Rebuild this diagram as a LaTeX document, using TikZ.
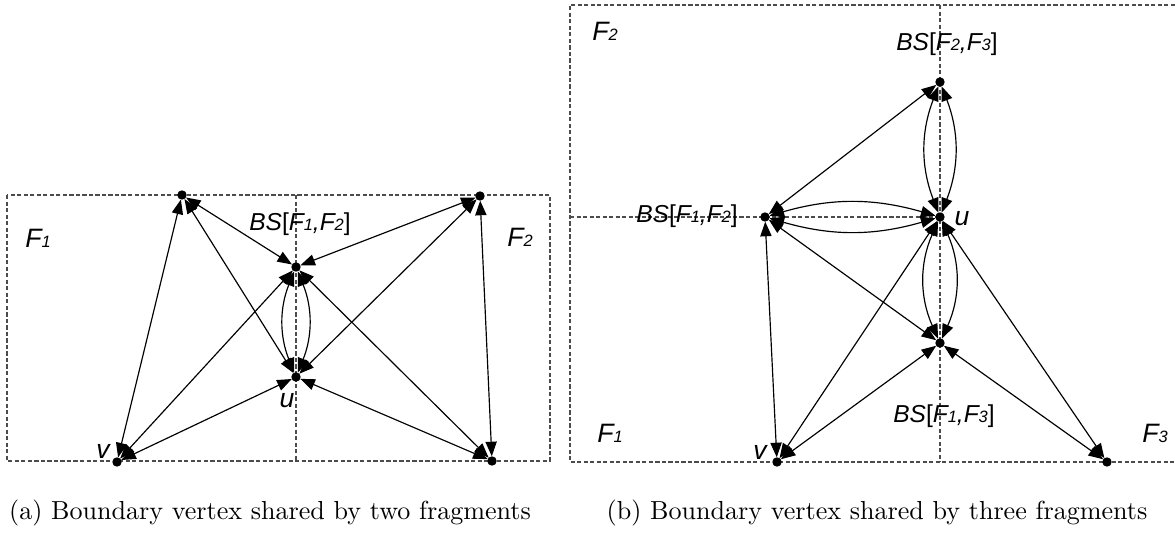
\documentclass[tikz,border=0pt]{standalone}
\usepackage{fontspec}
\newfontfamily\labfont{Liberation Sans}
\usetikzlibrary{arrows.meta}
\newcommand{\subnum}[1]{{\fontsize{6.3}{7}\selectfont #1}}
\newcommand{\bslabel}[2]{BS{\upshape[}F\subnum{#1},F\subnum{#2}{\upshape]}}
\begin{document}
\begin{tikzpicture}[x=0.3835pt,y=-0.3835pt,
  dot/.style={circle,fill=black,inner sep=0pt,minimum size=3.6pt,outer sep=0pt},
  edge/.style={line width=0.45pt,{Triangle[length=5.6pt,width=4.3pt]}-{Triangle[length=5.6pt,width=4.3pt]}},
  bound/.style={line width=0.4pt,black!70,dash pattern=on 1.6pt off 0.9pt},
  lbl/.style={font={\labfont\itshape\fontsize{10.2}{12}\selectfont},inner sep=0pt},
  bslbl/.style={font={\labfont\itshape\fontsize{9.4}{11}\selectfont},inner sep=0pt},
  captext/.style={font={\fontsize{10}{12}\selectfont},inner sep=0pt}]
\useasboundingbox (0,0) rectangle (1175,538);

% ---------- panel (a) ----------
\draw[bound] (7,195) rectangle (550,461);
\coordinate (at) at (296,195);
\coordinate (ab) at (296,461);
\draw[bound] (at) -- (ab);

\node[dot] (A) at (182,195) {};
\node[dot] (B) at (480,196) {};
\node[dot] (S) at (296,267) {};
\node[dot] (U) at (296,377) {};
\node[dot] (V) at (117,462) {};
\node[dot] (D) at (492,461) {};

\draw[edge] (V) -- (A);
\draw[edge] (A) -- (S);
\draw[edge] (A) -- (U);
\draw[edge] (V) -- (S);
\draw[edge] (V) -- (U);
\draw[edge] (B) -- (S);
\draw[edge] (B) -- (U);
\draw[edge] (B) -- (D);
\draw[edge] (D) -- (S);
\draw[edge] (D) -- (U);
\draw[edge] (S) to[bend right=22] (U);
\draw[edge] (S) to[bend left=22] (U);

\node[lbl] (laF1) at (38,238) {F\subnum{1}};
\node[lbl] (laF2) at (520,237) {F\subnum{2}};
\node[bslbl] (laBS) at (300,224) {\bslabel{1}{2}};
\node[lbl] (lau) at (287,401) {u};
\node[lbl] (lav) at (103,451) {v};

% ---------- panel (b) ----------
\coordinate (bl) at (570,5);
\coordinate (br) at (1175,5);
\coordinate (bbl) at (570,462);
\coordinate (bbr) at (1175,462);
\draw[bound] (br) -- (bl) -- (bbl) -- (bbr);
\draw[bound] (940,5) -- (940,462);
\draw[bound] (570,217) -- (940,217);

\node[dot] (P) at (940,82) {};
\node[dot] (Q) at (765,217) {};
\node[dot] (W) at (940,217) {};
\node[dot] (R) at (940,343) {};
\node[dot] (X) at (777,462) {};
\node[dot] (T) at (1107,462) {};

\draw[edge] (Q) -- (P);
\draw[edge] (P) to[bend right=21] (W);
\draw[edge] (P) to[bend left=21] (W);
\draw[edge] (Q) to[bend left=16] (W);
\draw[edge] (Q) to[bend right=16] (W);
\draw[edge] (W) to[bend right=24] (R);
\draw[edge] (W) to[bend left=24] (R);
\draw[edge] (Q) -- (X);
\draw[edge] (Q) -- (R);
\draw[edge] (W) -- (X);
\draw[edge] (W) -- (T);
\draw[edge] (X) -- (R);
\draw[edge] (T) -- (R);

\node[lbl] (lbF2) at (605,31) {F\subnum{2}};
\node[lbl] (lbF1) at (610,433) {F\subnum{1}};
\node[lbl] (lbF3) at (1155,433) {F\subnum{3}};
\node[bslbl] (lbBS23) at (947,44) {\bslabel{2}{3}};
\node[bslbl] (lbBS12) at (687,216) {\bslabel{1}{2}};
\node[bslbl] (lbBS13) at (944,416) {\bslabel{1}{3}};
\node[lbl] (lbu) at (962,219) {u};
\node[lbl] (lbv) at (760,452) {v};

% ---------- captions ----------
\node[captext] (capa) at (270,513) {(a) Boundary vertex shared by two fragments};
\node[captext] (capb) at (877,513) {(b) Boundary vertex shared by three fragments};
\end{tikzpicture}
\end{document}
